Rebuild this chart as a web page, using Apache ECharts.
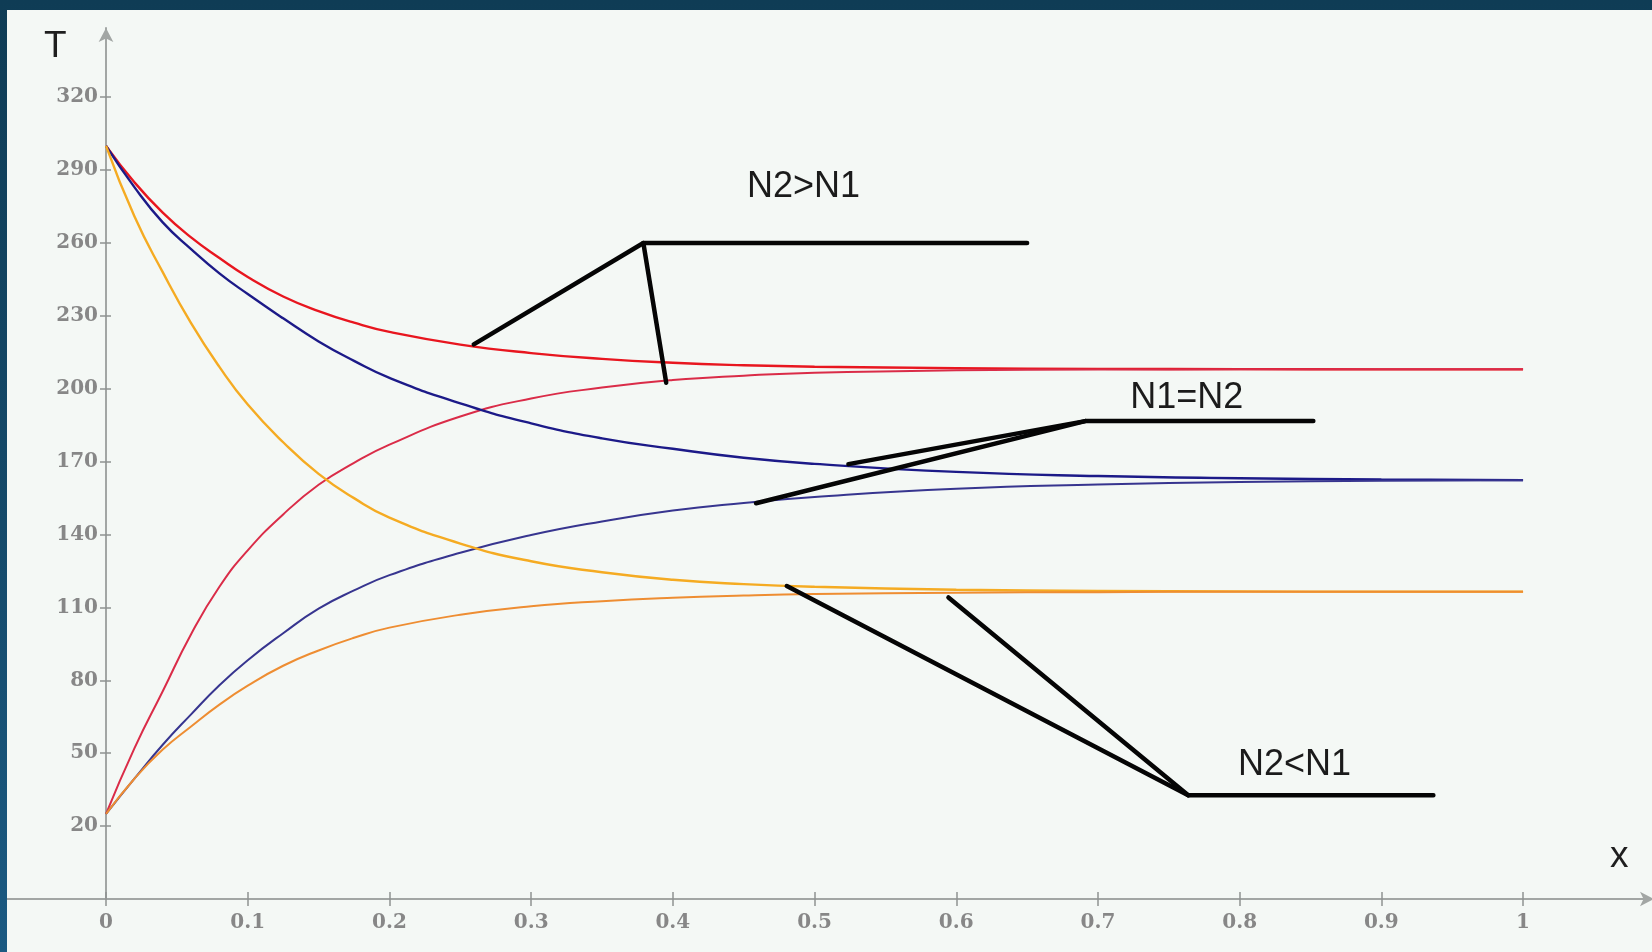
<!DOCTYPE html>
<html>
<head>
<meta charset="utf-8">
<script src="https://cdn.jsdelivr.net/npm/echarts@6/dist/echarts.min.js"></script>
<style>
  html, body { margin: 0; padding: 0; width: 1652px; height: 952px; overflow: hidden;
    background: linear-gradient(180deg, #0f3c55 0%, #154a6a 55%, #1b5a82 100%); }
  #panel { position: absolute; left: 7px; top: 10px; width: 1645px; height: 942px; background: #f4f8f5; }
  #chart { width: 1645px; height: 942px; }
</style>
</head>
<body>
<div id="panel"><div id="chart"></div></div>
<script>
// Position along the exchanger
const xs = [0, 0.02, 0.04, 0.06, 0.08, 0.1, 0.125, 0.15, 0.175, 0.2, 0.25, 0.3, 0.35, 0.4, 0.45, 0.5, 0.6, 0.7, 0.8, 0.9, 1];

// Temperature profiles, hot stream (falling) and cold stream (rising)
const redHot     = [300, 285, 272.5, 262.3, 253.8, 246, 238, 232, 227.2, 223.4, 218.2, 214.7, 212.3, 210.7, 209.7, 209.1, 208.5, 208.2, 208.1, 208, 208];
const redCold    = [25, 52, 75.5, 99, 118.5, 133.5, 148.3, 160.5, 169.5, 177, 188.6, 196, 200.5, 203.6, 205.4, 206.6, 207.6, 207.9, 208, 208, 208];
const blueHot    = [300, 283, 268.5, 257.5, 247.5, 239, 229, 219.5, 211.5, 204.5, 194, 185.8, 179.6, 175.3, 171.6, 169.1, 165.8, 164.1, 163.2, 162.7, 162.4];
const blueCold   = [25, 39.5, 53.5, 66, 78, 88.3, 99.4, 109.5, 117, 123.3, 132.5, 139.8, 145.4, 149.9, 153, 155.5, 158.9, 160.6, 161.6, 162.2, 162.4];
const orangeHot  = [300, 271, 248, 227, 209, 193.5, 178, 165, 155, 147, 136.3, 129, 124.5, 121.4, 119.6, 118.5, 117.3, 116.8, 116.6, 116.5, 116.5];
const orangeCold = [25, 39.5, 51.5, 61, 70, 77.8, 86, 92.3, 97.5, 101.7, 107, 110.5, 112.6, 114, 114.9, 115.5, 116.1, 116.3, 116.5, 116.5, 116.5];

// Axis ticks
const xTicks = [0, 0.1, 0.2, 0.3, 0.4, 0.5, 0.6, 0.7, 0.8, 0.9, 1];
const yTicks = [20, 50, 80, 110, 140, 170, 200, 230, 260, 290, 320];

// Case labels and their leader lines (data coordinates)
const caseLabels = [
  { name: 'N2>N1', value: [0.4922, 283.2] },
  { name: 'N1=N2', value: [0.7627, 196.2] },
  { name: 'N2<N1', value: [0.8387, 45.1] }
];
const leaders = [
  [[0.2595, 218.3], [0.3792, 260], [0.65, 260]],
  [[0.3792, 260], [0.3953, 202.5]],
  [[0.5239, 169.0], [0.691, 186.7], [0.852, 186.7]],
  [[0.4587, 152.9], [0.691, 186.7]],
  [[0.4804, 118.8], [0.7637, 32.7], [0.9367, 32.7]],
  [[0.5945, 114.1], [0.7637, 32.7]]
];

const X_MIN = -0.0699, X_MAX = 1.091;
const Y_MIN = -10, Y_MAX = 348.5;
const Y_AXIS_SHIFT = -99; // vertical axis sits at x = 0

const pairs = arr => xs.map((x, i) => [x, arr[i]]);
const axisGrey = '#a2a6a4';
const tickGrey = '#8f9391';
const labelStyle = { fontFamily: 'DejaVu Serif', fontSize: 20, fontWeight: 'bold', color: '#878787' };
const fmt = v => String(+(+v).toFixed(1));

function curve(name, data, color, width) {
  return {
    name, type: 'line', data: pairs(data), showSymbol: false, symbol: 'none',
    smooth: 0.5, silent: true, z: 3,
    lineStyle: { color, width }
  };
}

const chart = echarts.init(document.getElementById('chart'), null, { renderer: 'canvas' });
chart.setOption({
  animation: false,
  backgroundColor: 'transparent',
  grid: { left: 0, right: 0, top: 18, bottom: 53, containLabel: false, outerBoundsMode: 'none' },
  xAxis: [
    {
      type: 'value', min: X_MIN, max: X_MAX, position: 'bottom',
      axisLine: { onZero: false, symbol: ['none', 'arrow'], symbolSize: [11, 14], symbolOffset: [0, 2],
        lineStyle: { color: axisGrey, width: 2 } },
      axisTick: { show: true, customValues: xTicks, length: 7, lineStyle: { color: tickGrey, width: 1.5 } },
      axisLabel: { show: true, customValues: xTicks, margin: 14, formatter: fmt, ...labelStyle },
      splitLine: { show: false }
    },
    {
      type: 'value', min: X_MIN, max: X_MAX, position: 'bottom',
      axisLine: { show: false, onZero: false },
      axisTick: { show: true, inside: true, customValues: xTicks, length: 7, lineStyle: { color: tickGrey, width: 1.5 } },
      axisLabel: { show: false },
      splitLine: { show: false }
    }
  ],
  yAxis: [
    {
      type: 'value', min: Y_MIN, max: Y_MAX, position: 'left', offset: Y_AXIS_SHIFT,
      axisLine: { onZero: false, symbol: ['none', 'arrow'], symbolSize: [11, 14],
        lineStyle: { color: axisGrey, width: 2 } },
      axisTick: { show: true, customValues: yTicks, length: 6, lineStyle: { color: tickGrey, width: 1.5 } },
      axisLabel: { show: true, customValues: yTicks, margin: 8, formatter: fmt, ...labelStyle },
      splitLine: { show: false }
    },
    {
      type: 'value', min: Y_MIN, max: Y_MAX, position: 'left', offset: Y_AXIS_SHIFT,
      axisLine: { show: false, onZero: false },
      axisTick: { show: true, inside: true, customValues: yTicks, length: 5, lineStyle: { color: tickGrey, width: 1.5 } },
      axisLabel: { show: false },
      splitLine: { show: false }
    }
  ],
  graphic: [
    { type: 'text', left: 37, top: 18, silent: true,
      style: { text: 'T', fontFamily: 'Liberation Sans', fontSize: 37, fill: '#1e1e1e' } },
    { type: 'text', left: 1603, top: 828, silent: true,
      style: { text: 'x', fontFamily: 'Liberation Sans', fontSize: 37, fill: '#1e1e1e' } }
  ],
  series: [
    curve('redHot', redHot, '#e8161f', 2.4),
    curve('redCold', redCold, '#da2c48', 2),
    curve('blueHot', blueHot, '#1c1a88', 2.4),
    curve('blueCold', blueCold, '#37358f', 2),
    curve('orangeHot', orangeHot, '#f5ab22', 2.4),
    curve('orangeCold', orangeCold, '#ee8d32', 2),
    {
      type: 'lines', coordinateSystem: 'cartesian2d', polyline: true, silent: true, z: 5,
      data: leaders.map(c => ({ coords: c })),
      lineStyle: { color: '#050505', width: 4.5, opacity: 1, cap: 'round', join: 'round' }
    },
    {
      type: 'scatter', data: caseLabels, symbol: 'circle', symbolSize: 2, silent: true, z: 6,
      itemStyle: { color: 'rgba(0,0,0,0)' },
      label: { show: true, position: 'inside', formatter: p => p.name,
        fontFamily: 'Liberation Sans', fontSize: 36, color: '#1b1b1b', opacity: 1 }
    }
  ]
});
</script>
</body>
</html>
